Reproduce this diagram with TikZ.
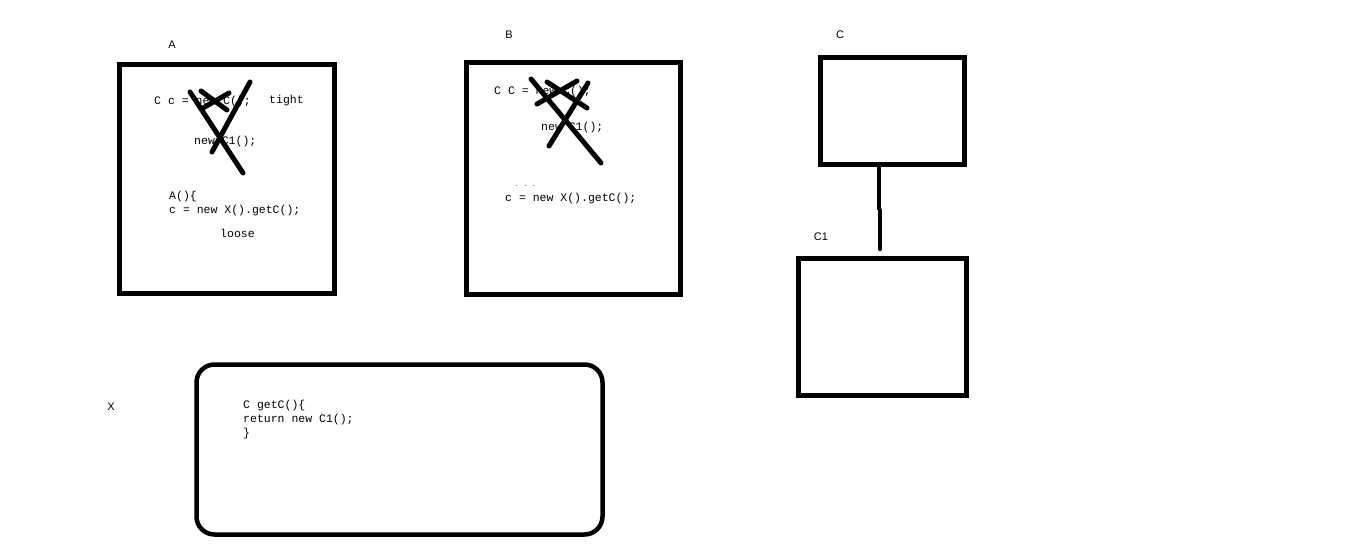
\documentclass[tikz,border=0pt]{standalone}
\usepackage{fontspec}
\setmainfont{Liberation Sans}
\newfontfamily\codefont{Liberation Mono}
\begin{document}
\begin{tikzpicture}[x=1pt,y=-1pt,
  box/.style={draw,line width=4.5pt,inner sep=0pt},
  code/.style={anchor=west,inner sep=0pt,yshift=-1.5pt,font=\codefont\fontsize{11.5}{13}\selectfont},
  lbl/.style={anchor=center,inner sep=0pt,font=\fontsize{11}{13}\selectfont},
  cross/.style={line width=5pt,line cap=round}]
\useasboundingbox (0,0) rectangle (1360,546);
% boxes
\node[box,minimum width=215pt,minimum height=229pt] (A) at (227,179) {};
\node[box,minimum width=214pt,minimum height=232pt] (B) at (573.5,178.5) {};
\node[box,minimum width=144pt,minimum height=107pt] (C) at (892.5,111) {};
\node[box,minimum width=168pt,minimum height=137pt] (C1) at (882.5,327) {};
\node[box,rounded corners=18pt,minimum width=406pt,minimum height=170pt] (X) at (399.5,449.5) {};
% labels
\node[lbl] (lA) at (172,45) {A};
\node[lbl] (lB) at (509,35) {B};
\node[lbl] (lC) at (840,35) {C};
\node[lbl] (lC1) at (821,237) {C1};
\node[lbl] (lX) at (111,407) {X};
% texts in A
\node[code] (a1) at (154,100) {C c = new C();};
\node[code] (a2) at (269,99) {tight};
\node[code] (a3) at (194,140) {new C1();};
\node[code] (a4) at (169,195) {A()\{};
\node[code] (a5) at (169,209) {c = new X().getC();};
\node[code] (a6) at (220,232) {loose};
% texts in B
\node[code] (b1) at (494,90) {C C = new C();};
\node[code] (b2) at (541,126) {new C1();};
\node[code,font=\codefont\fontsize{6}{7}\selectfont] (b3) at (515,185) {. . .};
\node[code] (b4) at (505,197) {c = new X().getC();};
% texts in X
\node[code] (x1) at (243,404) {C getC()\{};
\node[code] (x2) at (243,418) {return new C1();};
\node[code] (x3) at (243,432) {\}};
% crosses in A
\draw[cross] (190,92) -- (243,173);
\draw[cross] (250,82) -- (212,152);
\draw[cross] (201,91) -- (227,110);
\draw[cross] (203,108) -- (229,93);
% crosses in B
\draw[cross] (531,79) -- (601,163);
\draw[cross] (588,83) -- (549,146);
\draw[cross] (547,82) -- (587,108);
\draw[cross] (537,104) -- (577,81);
% connector C -- C1
\coordinate (mid1) at (879,210);
\coordinate (mid2) at (880,210);
\coordinate (c1top) at (880,249);
\draw[line width=4.5pt] (C.south -| mid1) -- (mid1);
\draw[line width=4.5pt,line cap=round] (mid2) -- (c1top);
\end{tikzpicture}
\end{document}
